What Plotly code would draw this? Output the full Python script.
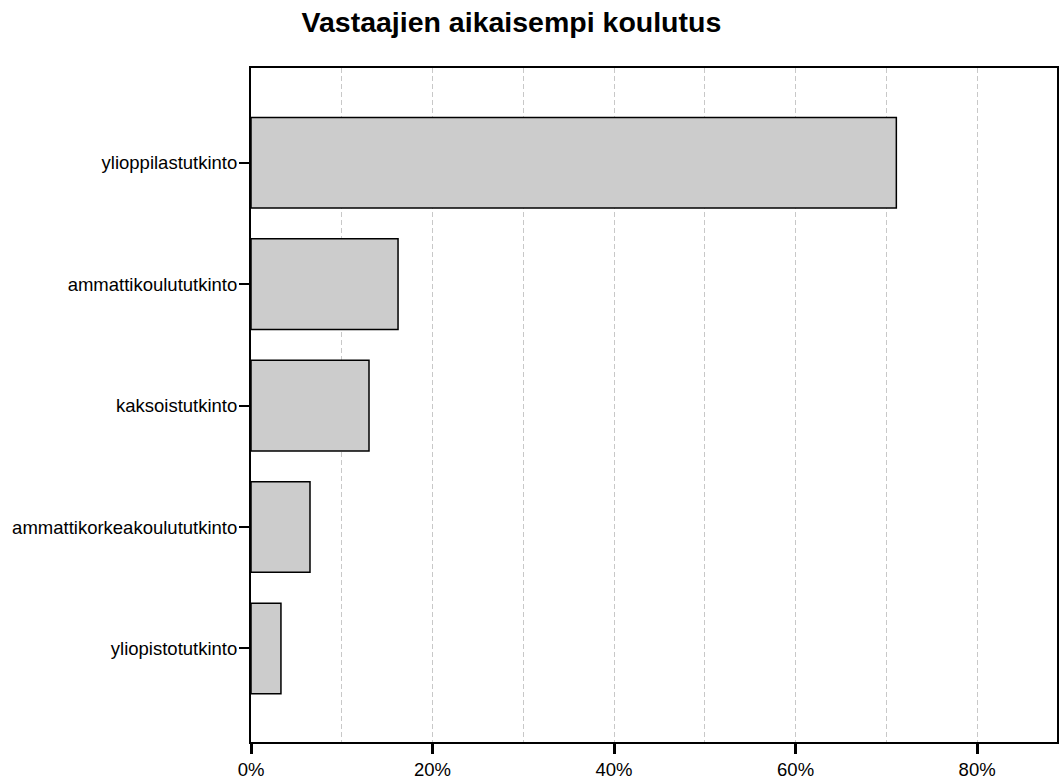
import plotly.graph_objects as go

categories = ["ylioppilastutkinto", "ammattikoulututkinto", "kaksoistutkinto",
              "ammattikorkeakoulututkinto", "yliopistotutkinto"]
values = [71.1, 16.2, 13.0, 6.5, 3.3]
x_ticks = [0, 20, 40, 60, 80]
x_tick_labels = ["0%", "20%", "40%", "60%", "80%"]
title = "Vastaajien aikaisempi koulutus"

fig = go.Figure(go.Bar(
    x=values, y=categories, orientation="h",
    marker=dict(color="#cccccc", line=dict(color="black", width=1.5)),
    width=0.746,
))

fig.update_layout(
    width=1061, height=782,
    margin=dict(l=251, r=2, t=68, b=36),
    paper_bgcolor="white", plot_bgcolor="white",
    font=dict(family="Liberation Sans, Arial, sans-serif", color="black", size=18.5),
    title=dict(text="<b>" + title + "</b>", x=0.482, xanchor="center", y=0.972, yanchor="middle",
               font=dict(size=28.5, color="black")),
    showlegend=False,
)
fig.update_xaxes(
    range=[0, 88.8], tickvals=x_ticks, ticktext=x_tick_labels,
    showgrid=True, gridcolor="#c8c8c8", griddash="5px,3px", gridwidth=1,
    minor=dict(dtick=10, tick0=0, showgrid=True, gridcolor="#c8c8c8", griddash="5px,3px", gridwidth=1),
    showline=True, linecolor="black", linewidth=2, mirror=True,
    ticks="outside", ticklen=10, tickwidth=3, tickcolor="black",
    zeroline=False, tickfont=dict(size=18.5),
)
fig.update_yaxes(
    categoryorder="array", categoryarray=categories,
    range=[4.77, -0.78],
    showline=True, linecolor="black", linewidth=2, mirror=True,
    ticks="outside", ticklen=10, tickwidth=2, tickcolor="black",
    showgrid=False, zeroline=False, tickfont=dict(size=18.5), ticklabelstandoff=-2,
)

fig.write_html("out.html", config={"responsive": False, "displayModeBar": False},
               post_script="document.body.style.margin='0';document.body.style.overflow='hidden';")
